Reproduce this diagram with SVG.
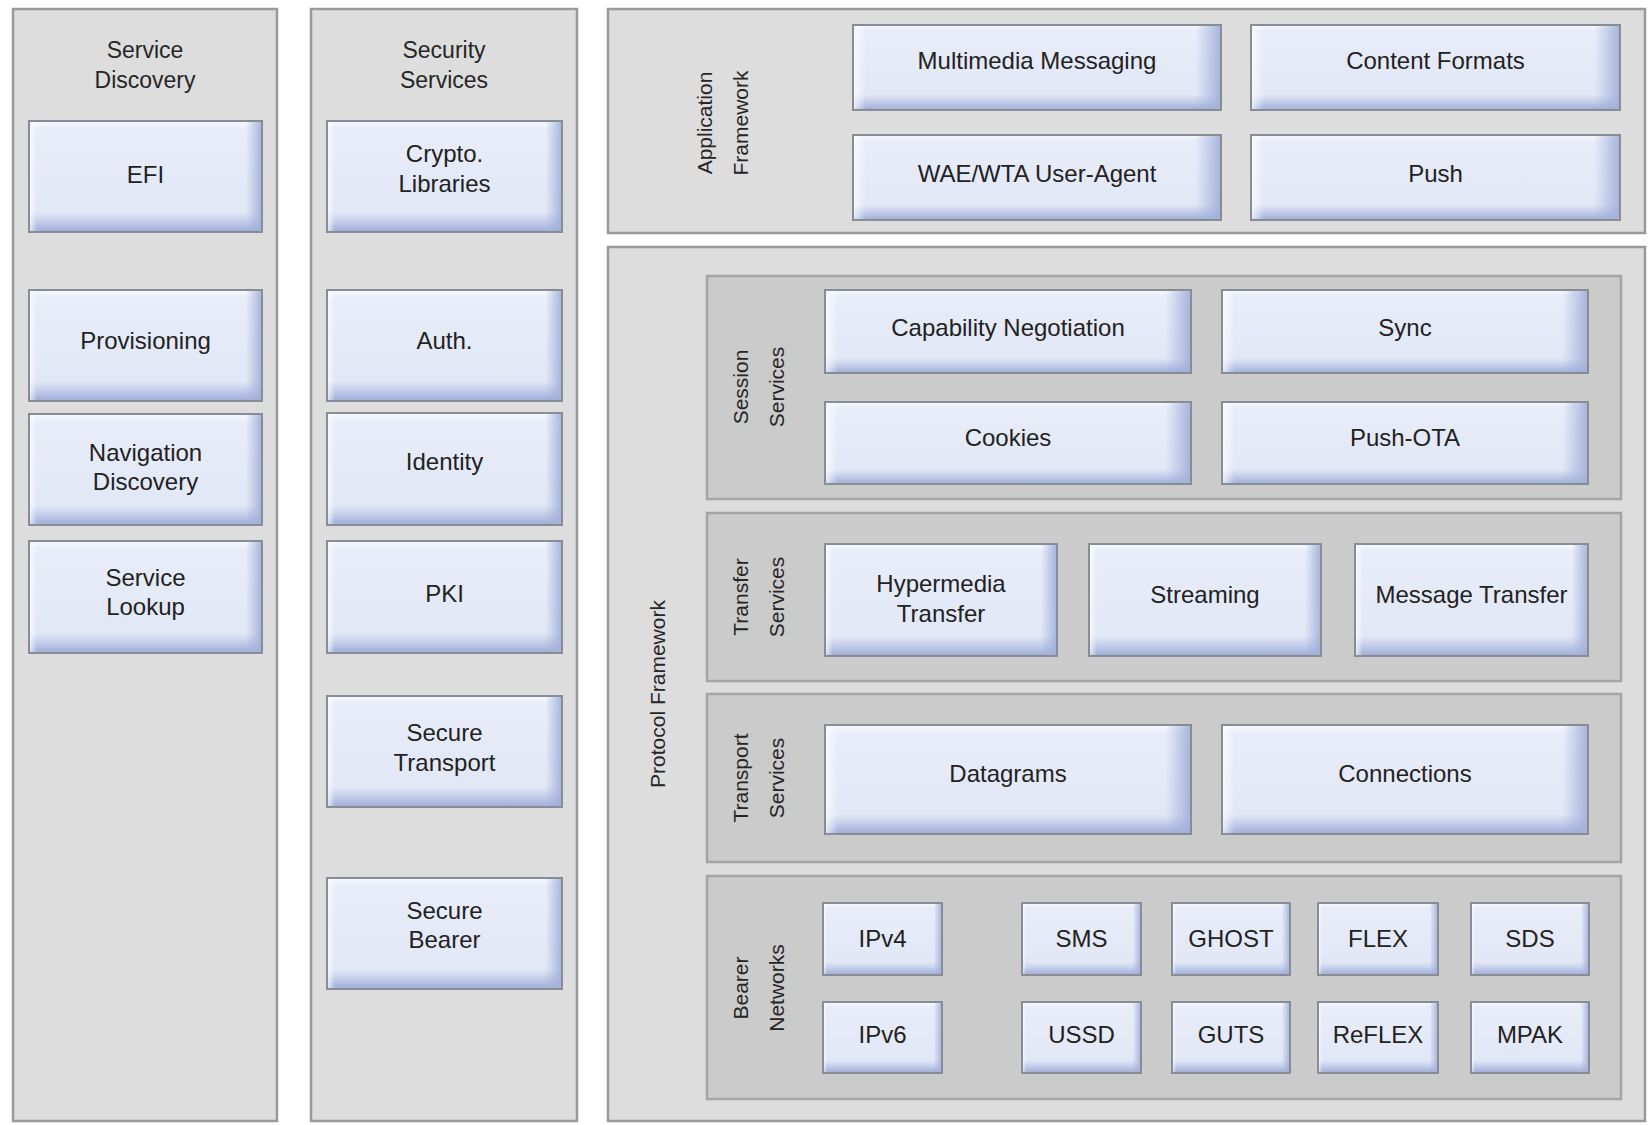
<svg xmlns="http://www.w3.org/2000/svg" width="1648" height="1125" viewBox="0 0 1648 1125">
  <defs>
    <!-- face of a button-like service box: light top, blue bevel at the bottom -->
    <linearGradient id="gv" x1="0" y1="0" x2="0" y2="1">
      <stop offset="0" stop-color="#f7f9fe"/>
      <stop offset="0.07" stop-color="#e9edf9"/>
      <stop offset="0.82" stop-color="#e2e7f6"/>
      <stop offset="0.9" stop-color="#c6cfeb"/>
      <stop offset="1" stop-color="#9eacd7"/>
    </linearGradient>
    <!-- side bevels: white on the left edge, blue on the right edge -->
    <linearGradient id="gh" x1="0" y1="0" x2="1" y2="0">
      <stop offset="0" stop-color="#ffffff" stop-opacity="0.75"/>
      <stop offset="0.035" stop-color="#ffffff" stop-opacity="0"/>
      <stop offset="0.93" stop-color="#a2b0da" stop-opacity="0"/>
      <stop offset="1" stop-color="#a2b0da" stop-opacity="0.95"/>
    </linearGradient>
    <style>
      .panel{fill:#dddddd;stroke:#9a9a9a;stroke-width:2.5}
      .sub{fill:#cbcbcb;stroke:#a4a4a4;stroke-width:2.5}
      .bx{fill:url(#gv)}
      .bxr{fill:url(#gh);stroke:#878c95;stroke-width:2}
      .lb{font-family:"Liberation Sans",Arial,sans-serif;font-size:24px;fill:#222222;text-anchor:middle}
      .hd{font-family:"Liberation Sans",Arial,sans-serif;font-size:23px;fill:#262626;text-anchor:middle}
      .vl{font-family:"Liberation Sans",Arial,sans-serif;font-size:21px;fill:#262626;text-anchor:middle}
    </style>
  </defs>

  <rect width="1648" height="1125" fill="#ffffff"/>

  <!-- ===== Service Discovery column ===== -->
  <g id="service-discovery">
    <rect class="panel" x="13" y="9" width="264" height="1112"/>
    <text class="hd" x="145" y="58">Service</text>
    <text class="hd" x="145" y="88">Discovery</text>
  </g>
  <g id="efi">
    <rect class="bx" x="29" y="121" width="233" height="111"/>
    <rect class="bxr" x="29" y="121" width="233" height="111"/>
    <text class="lb" x="145.5" y="183">EFI</text>
  </g>
  <g id="provisioning">
    <rect class="bx" x="29" y="290" width="233" height="111"/>
    <rect class="bxr" x="29" y="290" width="233" height="111"/>
    <text class="lb" x="145.5" y="349">Provisioning</text>
  </g>
  <g id="navigation-discovery">
    <rect class="bx" x="29" y="414" width="233" height="111"/>
    <rect class="bxr" x="29" y="414" width="233" height="111"/>
    <text class="lb" x="145.5" y="461">Navigation</text>
    <text class="lb" x="145.5" y="490">Discovery</text>
  </g>
  <g id="service-lookup">
    <rect class="bx" x="29" y="541" width="233" height="112"/>
    <rect class="bxr" x="29" y="541" width="233" height="112"/>
    <text class="lb" x="145.5" y="586">Service</text>
    <text class="lb" x="145.5" y="615">Lookup</text>
  </g>

  <!-- ===== Security Services column ===== -->
  <g id="security-services">
    <rect class="panel" x="311" y="9" width="266" height="1112"/>
    <text class="hd" x="444" y="58">Security</text>
    <text class="hd" x="444" y="88">Services</text>
  </g>
  <g id="crypto-libraries">
    <rect class="bx" x="327" y="121" width="235" height="111"/>
    <rect class="bxr" x="327" y="121" width="235" height="111"/>
    <text class="lb" x="444.5" y="162">Crypto.</text>
    <text class="lb" x="444.5" y="192">Libraries</text>
  </g>
  <g id="auth">
    <rect class="bx" x="327" y="290" width="235" height="111"/>
    <rect class="bxr" x="327" y="290" width="235" height="111"/>
    <text class="lb" x="444.5" y="349">Auth.</text>
  </g>
  <g id="identity">
    <rect class="bx" x="327" y="413" width="235" height="112"/>
    <rect class="bxr" x="327" y="413" width="235" height="112"/>
    <text class="lb" x="444.5" y="470">Identity</text>
  </g>
  <g id="pki">
    <rect class="bx" x="327" y="541" width="235" height="112"/>
    <rect class="bxr" x="327" y="541" width="235" height="112"/>
    <text class="lb" x="444.5" y="602">PKI</text>
  </g>
  <g id="secure-transport">
    <rect class="bx" x="327" y="696" width="235" height="111"/>
    <rect class="bxr" x="327" y="696" width="235" height="111"/>
    <text class="lb" x="444.5" y="741">Secure</text>
    <text class="lb" x="444.5" y="771">Transport</text>
  </g>
  <g id="secure-bearer">
    <rect class="bx" x="327" y="878" width="235" height="111"/>
    <rect class="bxr" x="327" y="878" width="235" height="111"/>
    <text class="lb" x="444.5" y="919">Secure</text>
    <text class="lb" x="444.5" y="948">Bearer</text>
  </g>

  <!-- ===== Application Framework ===== -->
  <g id="application-framework">
    <rect class="panel" x="608" y="9" width="1037" height="224"/>
    <text class="vl" transform="translate(712,123) rotate(-90)">Application</text>
    <text class="vl" transform="translate(748,123) rotate(-90)">Framework</text>
  </g>
  <g id="multimedia-messaging">
    <rect class="bx" x="853" y="25" width="368" height="85"/>
    <rect class="bxr" x="853" y="25" width="368" height="85"/>
    <text class="lb" x="1037" y="69">Multimedia Messaging</text>
  </g>
  <g id="content-formats">
    <rect class="bx" x="1251" y="25" width="369" height="85"/>
    <rect class="bxr" x="1251" y="25" width="369" height="85"/>
    <text class="lb" x="1435.5" y="69">Content Formats</text>
  </g>
  <g id="wae-wta-user-agent">
    <rect class="bx" x="853" y="135" width="368" height="85"/>
    <rect class="bxr" x="853" y="135" width="368" height="85"/>
    <text class="lb" x="1037" y="182">WAE/WTA User-Agent</text>
  </g>
  <g id="push">
    <rect class="bx" x="1251" y="135" width="369" height="85"/>
    <rect class="bxr" x="1251" y="135" width="369" height="85"/>
    <text class="lb" x="1435.5" y="182">Push</text>
  </g>

  <!-- ===== Protocol Framework ===== -->
  <g id="protocol-framework">
    <rect class="panel" x="608" y="247" width="1037" height="874"/>
    <text class="vl" transform="translate(665,694) rotate(-90)">Protocol Framework</text>
  </g>

  <!-- Session Services -->
  <g id="session-services">
    <rect class="sub" x="707" y="276" width="914" height="223"/>
    <text class="vl" transform="translate(748,387) rotate(-90)">Session</text>
    <text class="vl" transform="translate(784,387) rotate(-90)">Services</text>
  </g>
  <g id="capability-negotiation">
    <rect class="bx" x="825" y="290" width="366" height="83"/>
    <rect class="bxr" x="825" y="290" width="366" height="83"/>
    <text class="lb" x="1008" y="336">Capability Negotiation</text>
  </g>
  <g id="sync">
    <rect class="bx" x="1222" y="290" width="366" height="83"/>
    <rect class="bxr" x="1222" y="290" width="366" height="83"/>
    <text class="lb" x="1405" y="336">Sync</text>
  </g>
  <g id="cookies">
    <rect class="bx" x="825" y="402" width="366" height="82"/>
    <rect class="bxr" x="825" y="402" width="366" height="82"/>
    <text class="lb" x="1008" y="446">Cookies</text>
  </g>
  <g id="push-ota">
    <rect class="bx" x="1222" y="402" width="366" height="82"/>
    <rect class="bxr" x="1222" y="402" width="366" height="82"/>
    <text class="lb" x="1405" y="446">Push-OTA</text>
  </g>

  <!-- Transfer Services -->
  <g id="transfer-services">
    <rect class="sub" x="707" y="513" width="914" height="168"/>
    <text class="vl" transform="translate(748,597) rotate(-90)">Transfer</text>
    <text class="vl" transform="translate(784,597) rotate(-90)">Services</text>
  </g>
  <g id="hypermedia-transfer">
    <rect class="bx" x="825" y="544" width="232" height="112"/>
    <rect class="bxr" x="825" y="544" width="232" height="112"/>
    <text class="lb" x="941" y="592">Hypermedia</text>
    <text class="lb" x="941" y="622">Transfer</text>
  </g>
  <g id="streaming">
    <rect class="bx" x="1089" y="544" width="232" height="112"/>
    <rect class="bxr" x="1089" y="544" width="232" height="112"/>
    <text class="lb" x="1205" y="603">Streaming</text>
  </g>
  <g id="message-transfer">
    <rect class="bx" x="1355" y="544" width="233" height="112"/>
    <rect class="bxr" x="1355" y="544" width="233" height="112"/>
    <text class="lb" x="1471.5" y="603">Message Transfer</text>
  </g>

  <!-- Transport Services -->
  <g id="transport-services">
    <rect class="sub" x="707" y="694" width="914" height="168"/>
    <text class="vl" transform="translate(748,778) rotate(-90)">Transport</text>
    <text class="vl" transform="translate(784,778) rotate(-90)">Services</text>
  </g>
  <g id="datagrams">
    <rect class="bx" x="825" y="725" width="366" height="109"/>
    <rect class="bxr" x="825" y="725" width="366" height="109"/>
    <text class="lb" x="1008" y="782">Datagrams</text>
  </g>
  <g id="connections">
    <rect class="bx" x="1222" y="725" width="366" height="109"/>
    <rect class="bxr" x="1222" y="725" width="366" height="109"/>
    <text class="lb" x="1405" y="782">Connections</text>
  </g>

  <!-- Bearer Networks -->
  <g id="bearer-networks">
    <rect class="sub" x="707" y="876" width="914" height="223"/>
    <text class="vl" transform="translate(748,988) rotate(-90)">Bearer</text>
    <text class="vl" transform="translate(784,988) rotate(-90)">Networks</text>
  </g>
  <g id="ipv4">
    <rect class="bx" x="823" y="903" width="119" height="72"/>
    <rect class="bxr" x="823" y="903" width="119" height="72"/>
    <text class="lb" x="882.5" y="947">IPv4</text>
  </g>
  <g id="sms">
    <rect class="bx" x="1022" y="903" width="119" height="72"/>
    <rect class="bxr" x="1022" y="903" width="119" height="72"/>
    <text class="lb" x="1081.5" y="947">SMS</text>
  </g>
  <g id="ghost">
    <rect class="bx" x="1172" y="903" width="118" height="72"/>
    <rect class="bxr" x="1172" y="903" width="118" height="72"/>
    <text class="lb" x="1231" y="947">GHOST</text>
  </g>
  <g id="flex">
    <rect class="bx" x="1318" y="903" width="120" height="72"/>
    <rect class="bxr" x="1318" y="903" width="120" height="72"/>
    <text class="lb" x="1378" y="947">FLEX</text>
  </g>
  <g id="sds">
    <rect class="bx" x="1471" y="903" width="118" height="72"/>
    <rect class="bxr" x="1471" y="903" width="118" height="72"/>
    <text class="lb" x="1530" y="947">SDS</text>
  </g>
  <g id="ipv6">
    <rect class="bx" x="823" y="1002" width="119" height="71"/>
    <rect class="bxr" x="823" y="1002" width="119" height="71"/>
    <text class="lb" x="882.5" y="1043">IPv6</text>
  </g>
  <g id="ussd">
    <rect class="bx" x="1022" y="1002" width="119" height="71"/>
    <rect class="bxr" x="1022" y="1002" width="119" height="71"/>
    <text class="lb" x="1081.5" y="1043">USSD</text>
  </g>
  <g id="guts">
    <rect class="bx" x="1172" y="1002" width="118" height="71"/>
    <rect class="bxr" x="1172" y="1002" width="118" height="71"/>
    <text class="lb" x="1231" y="1043">GUTS</text>
  </g>
  <g id="reflex">
    <rect class="bx" x="1318" y="1002" width="120" height="71"/>
    <rect class="bxr" x="1318" y="1002" width="120" height="71"/>
    <text class="lb" x="1378" y="1043">ReFLEX</text>
  </g>
  <g id="mpak">
    <rect class="bx" x="1471" y="1002" width="118" height="71"/>
    <rect class="bxr" x="1471" y="1002" width="118" height="71"/>
    <text class="lb" x="1530" y="1043">MPAK</text>
  </g>

  <!-- layered stack: no connectors between nodes -->
  <g id="connectors"/>
</svg>
